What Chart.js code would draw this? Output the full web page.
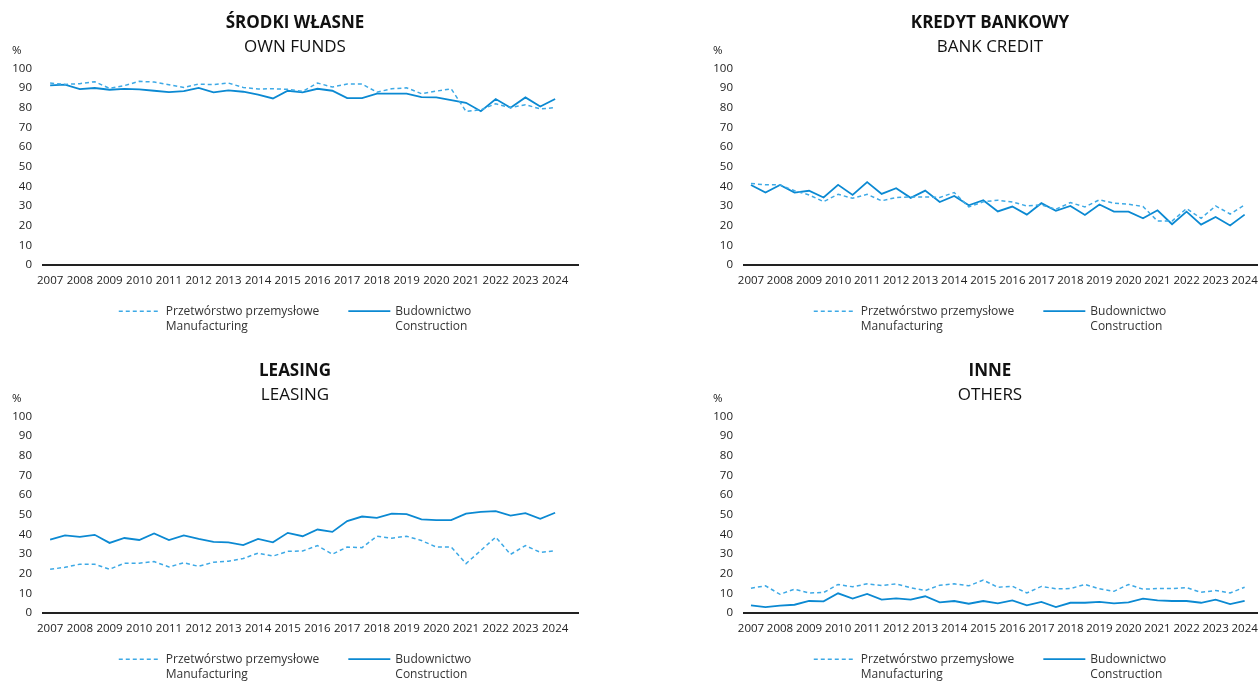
<!DOCTYPE html>
<html lang="pl">
<head>
  <meta charset="UTF-8">
  <title>Źródła finansowania inwestycji</title>
  <script src="https://cdn.jsdelivr.net/npm/chart.js"></script>
  <style>
    html, body {
      margin: 0;
      padding: 0;
      background: #fff;
      overflow: hidden;
    }
    body {
      width: 1258px;
      height: 681px;
      position: relative;
    }
    .panel {
      position: absolute;
      height: 346px;
    }
    #p1 { left: 0;     top: 0;     width: 590px; }
    #p2 { left: 701px; top: 0;     width: 578px; }
    #p3 { left: 0;     top: 348px; width: 590px; }
    #p4 { left: 701px; top: 348px; width: 578px; }
  </style>
</head>
<body>
<div class="panel" id="p1"><canvas id="ownFunds"></canvas></div>
<div class="panel" id="p2"><canvas id="bankCredit"></canvas></div>
<div class="panel" id="p3"><canvas id="leasing"></canvas></div>
<div class="panel" id="p4"><canvas id="others"></canvas></div>

<script>
  // półrocza 2007–2024
  const periods = [
    2007, 2007.5, 2008, 2008.5, 2009, 2009.5, 2010, 2010.5, 2011, 2011.5,
    2012, 2012.5, 2013, 2013.5, 2014, 2014.5, 2015, 2015.5, 2016, 2016.5,
    2017, 2017.5, 2018, 2018.5, 2019, 2019.5, 2020, 2020.5, 2021, 2021.5,
    2022, 2022.5, 2023, 2023.5, 2024
  ];
  const yearTicks = [2007, 2008, 2009, 2010, 2011, 2012, 2013, 2014, 2015,
    2016, 2017, 2018, 2019, 2020, 2021, 2022, 2023, 2024];
  const percentTicks = [0, 10, 20, 30, 40, 50, 60, 70, 80, 90, 100];

  const seriesNames = [
    ['Przetwórstwo przemysłowe', 'Manufacturing'],
    ['Budownictwo', 'Construction']
  ];

  // środki własne
  const ownFundsManufacturing = [
    92.5, 91.8, 92.2, 93.2, 89.8, 91.2, 93.4, 93.0, 91.7, 90.3,
    92.0, 91.7, 92.5, 90.3, 89.5, 89.6, 89.3, 88.3, 92.5, 90.5,
    92.0, 92.0, 87.9, 89.6, 90.1, 87.1, 88.4, 89.6, 78.1, 78.9,
    82.0, 80.0, 81.5, 79.4, 80.0
  ];
  const ownFundsConstruction = [
    91.3, 91.7, 89.4, 90.0, 89.1, 89.6, 89.3, 88.6, 87.9, 88.4,
    90.0, 87.8, 88.8, 88.1, 86.6, 84.7, 88.6, 87.8, 89.6, 88.6,
    84.9, 84.9, 87.1, 87.1, 87.1, 85.4, 85.2, 83.8, 82.5, 78.2,
    84.4, 80.0, 85.2, 80.6, 84.4
  ];

  // kredyt bankowy
  const bankCreditManufacturing = [
    41.5, 40.8, 40.8, 37.8, 35.7, 32.3, 36.0, 34.0, 36.0, 32.7,
    34.4, 34.7, 34.7, 34.4, 36.9, 29.6, 32.2, 33.0, 32.1, 30.1,
    30.6, 28.4, 31.8, 29.6, 33.2, 31.5, 31.0, 29.8, 22.4, 22.4,
    28.8, 23.8, 30.1, 26.0, 30.6
  ];
  const bankCreditConstruction = [
    40.7, 36.9, 40.7, 36.9, 37.8, 34.4, 40.8, 35.7, 42.2, 36.2,
    39.1, 34.2, 37.9, 32.1, 35.2, 30.4, 33.0, 27.3, 29.8, 25.7,
    31.5, 27.6, 30.1, 25.5, 30.8, 27.2, 27.2, 23.8, 27.9, 20.8,
    27.2, 20.6, 24.5, 20.2, 25.7
  ];

  // leasing
  const leasingManufacturing = [
    22.3, 23.3, 24.9, 24.9, 22.3, 25.4, 25.4, 26.2, 23.5, 25.6,
    23.8, 25.9, 26.4, 27.8, 30.5, 29.0, 31.4, 31.6, 34.3, 30.0,
    33.6, 33.3, 39.1, 38.1, 39.1, 36.9, 33.6, 33.6, 25.2, 31.9,
    38.6, 29.9, 34.3, 30.9, 31.7
  ];
  const leasingConstruction = [
    37.4, 39.5, 38.8, 39.8, 35.7, 38.2, 37.2, 40.5, 37.1, 39.5,
    37.7, 36.2, 36.0, 34.6, 37.7, 36.0, 40.8, 39.1, 42.5, 41.3,
    46.8, 49.1, 48.4, 50.6, 50.3, 47.7, 47.3, 47.3, 50.6, 51.5,
    51.8, 49.6, 50.8, 47.9, 51.0
  ];

  // inne
  const othersManufacturing = [
    12.7, 13.9, 9.6, 12.2, 10.3, 10.5, 14.6, 13.4, 14.9, 14.1,
    14.9, 12.9, 11.5, 14.2, 14.9, 13.9, 16.8, 13.2, 13.7, 10.3,
    13.6, 12.4, 12.5, 14.6, 12.4, 11.1, 14.6, 12.2, 12.5, 12.5,
    13.0, 10.6, 11.5, 10.3, 13.2
  ];
  const othersConstruction = [
    4.0, 3.1, 3.8, 4.3, 6.2, 6.0, 10.1, 7.4, 9.8, 6.9,
    7.5, 6.9, 8.6, 5.5, 6.2, 4.8, 6.2, 5.0, 6.5, 4.0,
    5.7, 3.1, 5.3, 5.3, 5.8, 5.0, 5.5, 7.4, 6.5, 6.2,
    6.2, 5.3, 6.9, 4.6, 6.2
  ];

  const FONT = "'Open Sans', 'Noto Sans', sans-serif";
  const TEXT = '#222';
  const BLUE_DARK = '#0b89d2';
  const BLUE_LIGHT = '#3da9e6';

  // znak "%" nad osią Y
  const percentSign = {
    id: 'percentSign',
    afterDraw(chart) {
      const y = chart.scales.y;
      const ctx = chart.ctx;
      ctx.save();
      ctx.font = `11.5px ${FONT}`;
      ctx.fillStyle = TEXT;
      ctx.textAlign = 'left';
      ctx.textBaseline = 'middle';
      ctx.fillText('%', y.left, y.getPixelForValue(100) - 18);
      ctx.restore();
    }
  };

  // legenda z dwuwierszowymi opisami (PL / EN) pod osią X
  const twoLineLegend = {
    id: 'twoLineLegend',
    afterDraw(chart) {
      const { ctx, chartArea } = chart;
      const sample = 42, textGap = 5, itemGap = 29, lineStep = 15;
      ctx.save();
      ctx.font = `12px ${FONT}`;
      const items = chart.data.datasets.map((ds, i) => {
        const lines = seriesNames[i];
        const textW = Math.max(...lines.map(t => ctx.measureText(t).width));
        return { ds, lines, w: sample + textGap + textW };
      });
      const total = items.reduce((s, it) => s + it.w, 0) + itemGap * (items.length - 1);
      let x = (chart.width - total) / 2;
      const y = chartArea.bottom + 46;
      items.forEach(it => {
        ctx.strokeStyle = it.ds.borderColor;
        ctx.lineWidth = it.ds.borderWidth;
        ctx.setLineDash(it.ds.borderDash || []);
        ctx.beginPath();
        ctx.moveTo(x, y);
        ctx.lineTo(x + sample, y);
        ctx.stroke();
        ctx.setLineDash([]);
        ctx.fillStyle = '#333';
        ctx.textAlign = 'left';
        ctx.textBaseline = 'middle';
        it.lines.forEach((t, k) => ctx.fillText(t, x + sample + textGap, y + k * lineStep));
        x += it.w + itemGap;
      });
      ctx.restore();
    }
  };

  const toPoints = (values) => periods.map((p, i) => ({ x: p, y: values[i] }));

  const makeChart = (id, titlePl, titleEn, manufacturing, construction) => {
    const ctx = document.getElementById(id).getContext('2d');
    return new Chart(ctx, {
      type: 'line',
      data: {
        datasets: [
          {
            label: seriesNames[0].join(' '),
            data: toPoints(manufacturing),
            borderColor: BLUE_LIGHT,
            borderWidth: 1.5,
            borderDash: [4, 3],
            pointRadius: 0,
            tension: 0
          },
          {
            label: seriesNames[1].join(' '),
            data: toPoints(construction),
            borderColor: BLUE_DARK,
            borderWidth: 1.8,
            pointRadius: 0,
            tension: 0
          }
        ]
      },
      options: {
        responsive: true,
        maintainAspectRatio: false,
        animation: false,
        layout: { padding: { left: 12, right: 12, top: 0, bottom: 49 } },
        scales: {
          x: {
            type: 'linear',
            min: 2006.76,
            max: 2024.77,
            grid: { display: false, drawTicks: false },
            border: { display: true, color: '#222', width: 2 },
            afterBuildTicks: (scale) => {
              scale.ticks = yearTicks.map(v => ({ value: v }));
            },
            afterFit: (scale) => {
              scale.paddingLeft = 0;
              scale.paddingRight = 0;
            },
            ticks: {
              autoSkip: false,
              maxRotation: 0,
              padding: 9,
              color: TEXT,
              font: { family: FONT, size: 11.5 },
              callback: (value) => String(value)
            }
          },
          y: {
            min: 0,
            max: 100,
            grid: { display: false, drawTicks: false },
            border: { display: false },
            afterBuildTicks: (scale) => {
              scale.ticks = percentTicks.map(v => ({ value: v }));
            },
            // stała szerokość osi: etykiety kończą się 11 px przed linią osi X
            afterFit: (scale) => {
              scale.width = 31;
            },
            ticks: {
              autoSkip: false,
              padding: 11,
              color: TEXT,
              font: { family: FONT, size: 11.5 }
            }
          }
        },
        plugins: {
          title: {
            display: true,
            text: titlePl,
            color: '#111',
            font: { family: FONT, size: 17, weight: 'bold', lineHeight: 1.2 },
            padding: { top: 13, bottom: 0 }
          },
          subtitle: {
            display: true,
            text: titleEn,
            color: '#111',
            font: { family: FONT, size: 17, weight: 'normal', lineHeight: 1.2 },
            padding: { top: 3.5, bottom: 11 }
          },
          legend: { display: false },
          tooltip: { enabled: false }
        }
      },
      plugins: [percentSign, twoLineLegend]
    });
  };

  makeChart('ownFunds', 'ŚRODKI WŁASNE', 'OWN FUNDS', ownFundsManufacturing, ownFundsConstruction);
  makeChart('bankCredit', 'KREDYT BANKOWY', 'BANK CREDIT', bankCreditManufacturing, bankCreditConstruction);
  makeChart('leasing', 'LEASING', 'LEASING', leasingManufacturing, leasingConstruction);
  makeChart('others', 'INNE', 'OTHERS', othersManufacturing, othersConstruction);
</script>
</body>
</html>
